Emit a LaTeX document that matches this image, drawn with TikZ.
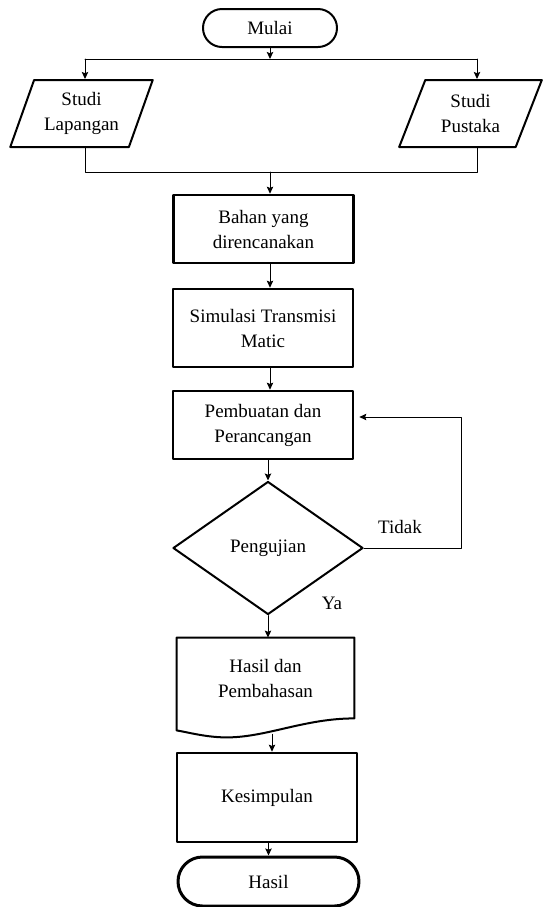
\documentclass[tikz,border=0pt]{standalone}
\usepackage{fontspec}
\setmainfont{Liberation Serif}
\usetikzlibrary{shapes.geometric,shapes.misc,arrows.meta}
\begin{document}
\begin{tikzpicture}[x=0.5pt, y=-0.5pt, line join=round, line cap=round,
	>={Stealth[length=3.5pt,width=3.2pt,inset=0.6pt]},
	txt/.style={font=\fontsize{9.5}{12.5}\selectfont, align=center, inner sep=0pt},
	terminal/.style={txt, draw, rounded rectangle, line width=1pt},
	datain/.style={txt, draw, trapezium, trapezium left angle=66, trapezium right angle=114,
		trapezium stretches=true, minimum width=71.5pt, minimum height=33.5pt, line width=1pt},
	proses/.style={txt, draw, rectangle, minimum width=90pt, line width=1.3pt},
	keputusan/.style={txt, draw, diamond, minimum width=95pt, minimum height=66.5pt, line width=1pt},
	conn/.style={line width=0.5pt},
	arr/.style={conn, ->}]
	\useasboundingbox (0,0) rectangle (544,907);
	%% Khai bao diem
	\path
	(270,0) coordinate (axis)
	(270,59) coordinate (split)
	(85,59) coordinate (ta)
	(477,59) coordinate (tb)
	(85,172) coordinate (ba)
	(477,172) coordinate (bb)
	(461,417) coordinate (back)
	;
	%% nodes
	\node[terminal, minimum width=67pt, minimum height=19pt] (mulai) at (270,28) {Mulai};
	\node[datain] (lap) at (81.5,113.5) {Studi\\Lapangan};
	\node[datain] (pus) at (470.5,113.5) {Studi\\Pustaka};
	\node[proses, minimum height=34pt] (bahan) at (263.5,229) {Bahan yang\\direncanakan};
	\node[proses, minimum height=39pt] (simul) at (263,328) {Simulasi Transmisi\\Matic};
	\node[proses, minimum height=34pt] (buat) at (263,425) {Pembuatan dan\\Perancangan};
	\node[keputusan] (uji) at (268,548) {Pengujian};
	\node[txt, minimum width=88.5pt, minimum height=40pt] (bahas) at (265.5,678) {Hasil dan\\Pembahasan};
	\node[proses, minimum height=44.5pt] (simpul) at (267,797.5) {Kesimpulan};
	\node[terminal, line width=1.5pt, minimum width=90.5pt, minimum height=24.5pt] (hasil) at (268.5,881.5) {Hasil};
	\node[txt] (tidak) at (400,527) {Tidak};
	\node[txt] (ya) at (332,603) {Ya};
	%% document shape
	\draw[line width=1pt] (bahas.north west) -- (bahas.north east) -- (bahas.south east)
	.. controls +(-50,0) and +(40,0) .. ([shift={(50,19)}]bahas.south west)
	.. controls +(-20,0) and +(12,2) .. ([shift={(0,12)}]bahas.south west) -- cycle;
	\coordinate (docbot) at ([shift={(6.5,16)}]bahas.south);
	%% connectors
	\draw[arr] (mulai.south -| axis) -- (split);
	\draw[conn] (ta) -- (tb);
	\draw[arr] (ta) -- (ta |- lap.north);
	\draw[arr] (tb) -- (tb |- pus.north);
	\draw[conn] (ta |- lap.south) -- (ba) -- (bb) -- (tb |- pus.south);
	\draw[arr] (ba -| axis) -- (bahan.north -| axis);
	\foreach \a/\b in {bahan/simul, simul/buat}
	\draw[arr] (\a.south -| axis) -- (\b.north -| axis);
	\draw[arr] (buat.south -| uji.north) -- (uji.north);
	\draw[arr] (uji.south) -- (uji.south |- bahas.north);
	\draw[arr] (docbot) -- (docbot |- simpul.north);
	\draw[arr] (simpul.south -| hasil.north) -- (hasil.north);
	\draw[arr, shorten >=2.5pt] (uji.east) -| (back) -- (back -| buat.east);
\end{tikzpicture}
\end{document}
